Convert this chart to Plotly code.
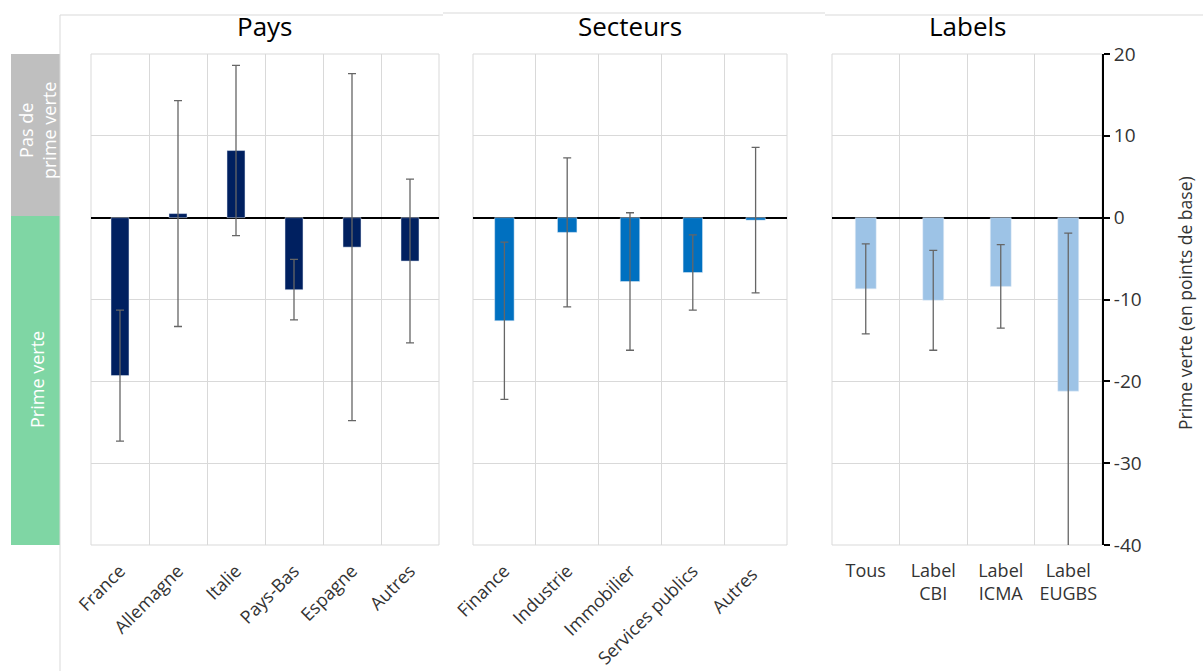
import plotly.graph_objects as go

W, H = 1203, 671

pays = ["France", "Allemagne", "Italie", "Pays-Bas", "Espagne", "Autres"]
pays_val = [-19.3, 0.5, 8.2, -8.8, -3.6, -5.3]
pays_err = [8.0, 13.8, 10.4, 3.7, 21.2, 10.0]

secteurs = ["Finance", "Industrie", "Immobilier", "Services publics", "Autres "]
secteurs_val = [-12.6, -1.8, -7.8, -6.7, -0.3]
secteurs_err = [9.6, 9.1, 8.4, 4.6, 8.9]

labels = ["Tous", "Label<br>CBI", "Label<br>ICMA", "Label<br>EUGBS"]
labels_val = [-8.7, -10.1, -8.4, -21.2]
labels_err = [5.5, 6.1, 5.1, 19.3]

panel_titles = ["Pays", "Secteurs", "Labels"]
colors = ["#002060", "#0070C0", "#9DC3E6"]
y_ticks = [20, 10, 0, -10, -20, -30, -40]
y_ticktext = ["20", "10", "0", "-10", "-20", "-30", "-40"]

def px_x(p):
    return p / W

def px_y(p):
    return 1 - p / H

ydom = [px_y(545), px_y(54)]
xdoms = [[px_x(91), px_x(439)], [px_x(473), px_x(787)], [px_x(832), px_x(1102)]]

fig = go.Figure()
datasets = [(pays, pays_val, pays_err), (secteurs, secteurs_val, secteurs_err), (labels, labels_val, labels_err)]
FONT = "Open Sans"
GRID = "#D9D9D9"
TXT = "#333333"
for i, (cats, vals, errs) in enumerate(datasets):
    sfx = "" if i == 0 else str(i + 1)
    fig.add_trace(go.Bar(
        x=cats, y=vals, marker_color=colors[i], width=0.31,
        error_y=dict(type="data", array=errs, visible=True, color="#666666", thickness=1.3, width=4),
        xaxis="x" + sfx, yaxis="y" + sfx, showlegend=False,
    ))
    xa = dict(domain=xdoms[i], anchor="y" + sfx, range=[-0.5, len(cats) - 0.5],
              tickson="boundaries", showgrid=True, gridcolor=GRID, gridwidth=1,
              ticks="", showline=False, zeroline=False,
              tickfont=dict(family=FONT, size=18, color=TXT),
              ticklabelstandoff=11 if i < 2 else 13,
              tickangle=-45 if i < 2 else 0, automargin=False, fixedrange=True)
    ya = dict(domain=ydom, anchor="x" + sfx, range=[-40, 20], tickvals=y_ticks,
              ticktext=y_ticktext,
              showgrid=True, gridcolor=GRID, gridwidth=1,
              zeroline=True, zerolinecolor="black", zerolinewidth=2,
              showticklabels=False, automargin=False, fixedrange=True)
    if i == 2:
        ya.update(side="right", showticklabels=True, showline=True, linecolor="black",
                  linewidth=2, ticks="outside", ticklen=6, tickwidth=2, tickcolor="black",
                  tickfont=dict(family=FONT, size=19, color=TXT))
    fig.update_layout({"xaxis" + sfx: xa, "yaxis" + sfx: ya})

    # plot-area border
    fig.add_shape(type="rect", xref="x" + sfx + " domain", yref="y" + sfx + " domain",
                  x0=0, x1=1, y0=0, y1=1, line=dict(color=GRID, width=1), layer="below")

    cx = (xdoms[i][0] + xdoms[i][1]) / 2
    fig.add_annotation(x=cx, y=px_y(26), xref="paper", yref="paper", text=panel_titles[i],
                       xanchor="center", yanchor="middle",
                       showarrow=False, font=dict(family=FONT, size=26, color="black"))

# Left bands
fig.add_shape(type="rect", xref="paper", yref="paper", x0=px_x(11), x1=px_x(60),
              y0=px_y(216), y1=px_y(54), fillcolor="#BFBFBF", line_width=0, layer="below")
fig.add_shape(type="rect", xref="paper", yref="paper", x0=px_x(11), x1=px_x(60),
              y0=px_y(545), y1=px_y(216), fillcolor="#7FD6A4", line_width=0, layer="below")
fig.add_annotation(x=px_x(37), y=px_y(131), xref="paper", yref="paper", text="Pas de<br>prime verte",
                   xanchor="center", yanchor="middle",
                   textangle=-90, showarrow=False, font=dict(family=FONT, size=18, color="white"))
fig.add_annotation(x=px_x(37), y=px_y(380), xref="paper", yref="paper", text="Prime verte",
                   xanchor="center", yanchor="middle",
                   textangle=-90, showarrow=False, font=dict(family=FONT, size=18, color="white"))

# Frame lines (chart borders)
frame = "#D9D9D9"
fig.add_shape(type="line", xref="paper", yref="paper", x0=px_x(60), x1=px_x(60), y0=0, y1=px_y(15), line=dict(color=frame, width=1))
fig.add_shape(type="line", xref="paper", yref="paper", x0=px_x(60), x1=px_x(443), y0=px_y(15), y1=px_y(15), line=dict(color=frame, width=1))
fig.add_shape(type="line", xref="paper", yref="paper", x0=px_x(443), x1=px_x(825), y0=px_y(13), y1=px_y(13), line=dict(color=frame, width=1))
fig.add_shape(type="line", xref="paper", yref="paper", x0=px_x(825), x1=1, y0=px_y(15), y1=px_y(15), line=dict(color=frame, width=1))

# Right axis title
fig.add_annotation(x=px_x(1185), y=px_y(303), xref="paper", yref="paper",
                   xanchor="center", yanchor="middle",
                   text="Prime verte (en points de base)", textangle=-90, showarrow=False,
                   font=dict(family=FONT, size=17.5, color=TXT))

fig.update_layout(width=W, height=H, margin=dict(l=0, r=0, t=0, b=0),
                  paper_bgcolor="white", plot_bgcolor="white", bargap=0.69)

fig.write_html("out.html", config={"displayModeBar": False},
               post_script="document.body.style.margin='0';document.body.style.overflow='hidden';")
